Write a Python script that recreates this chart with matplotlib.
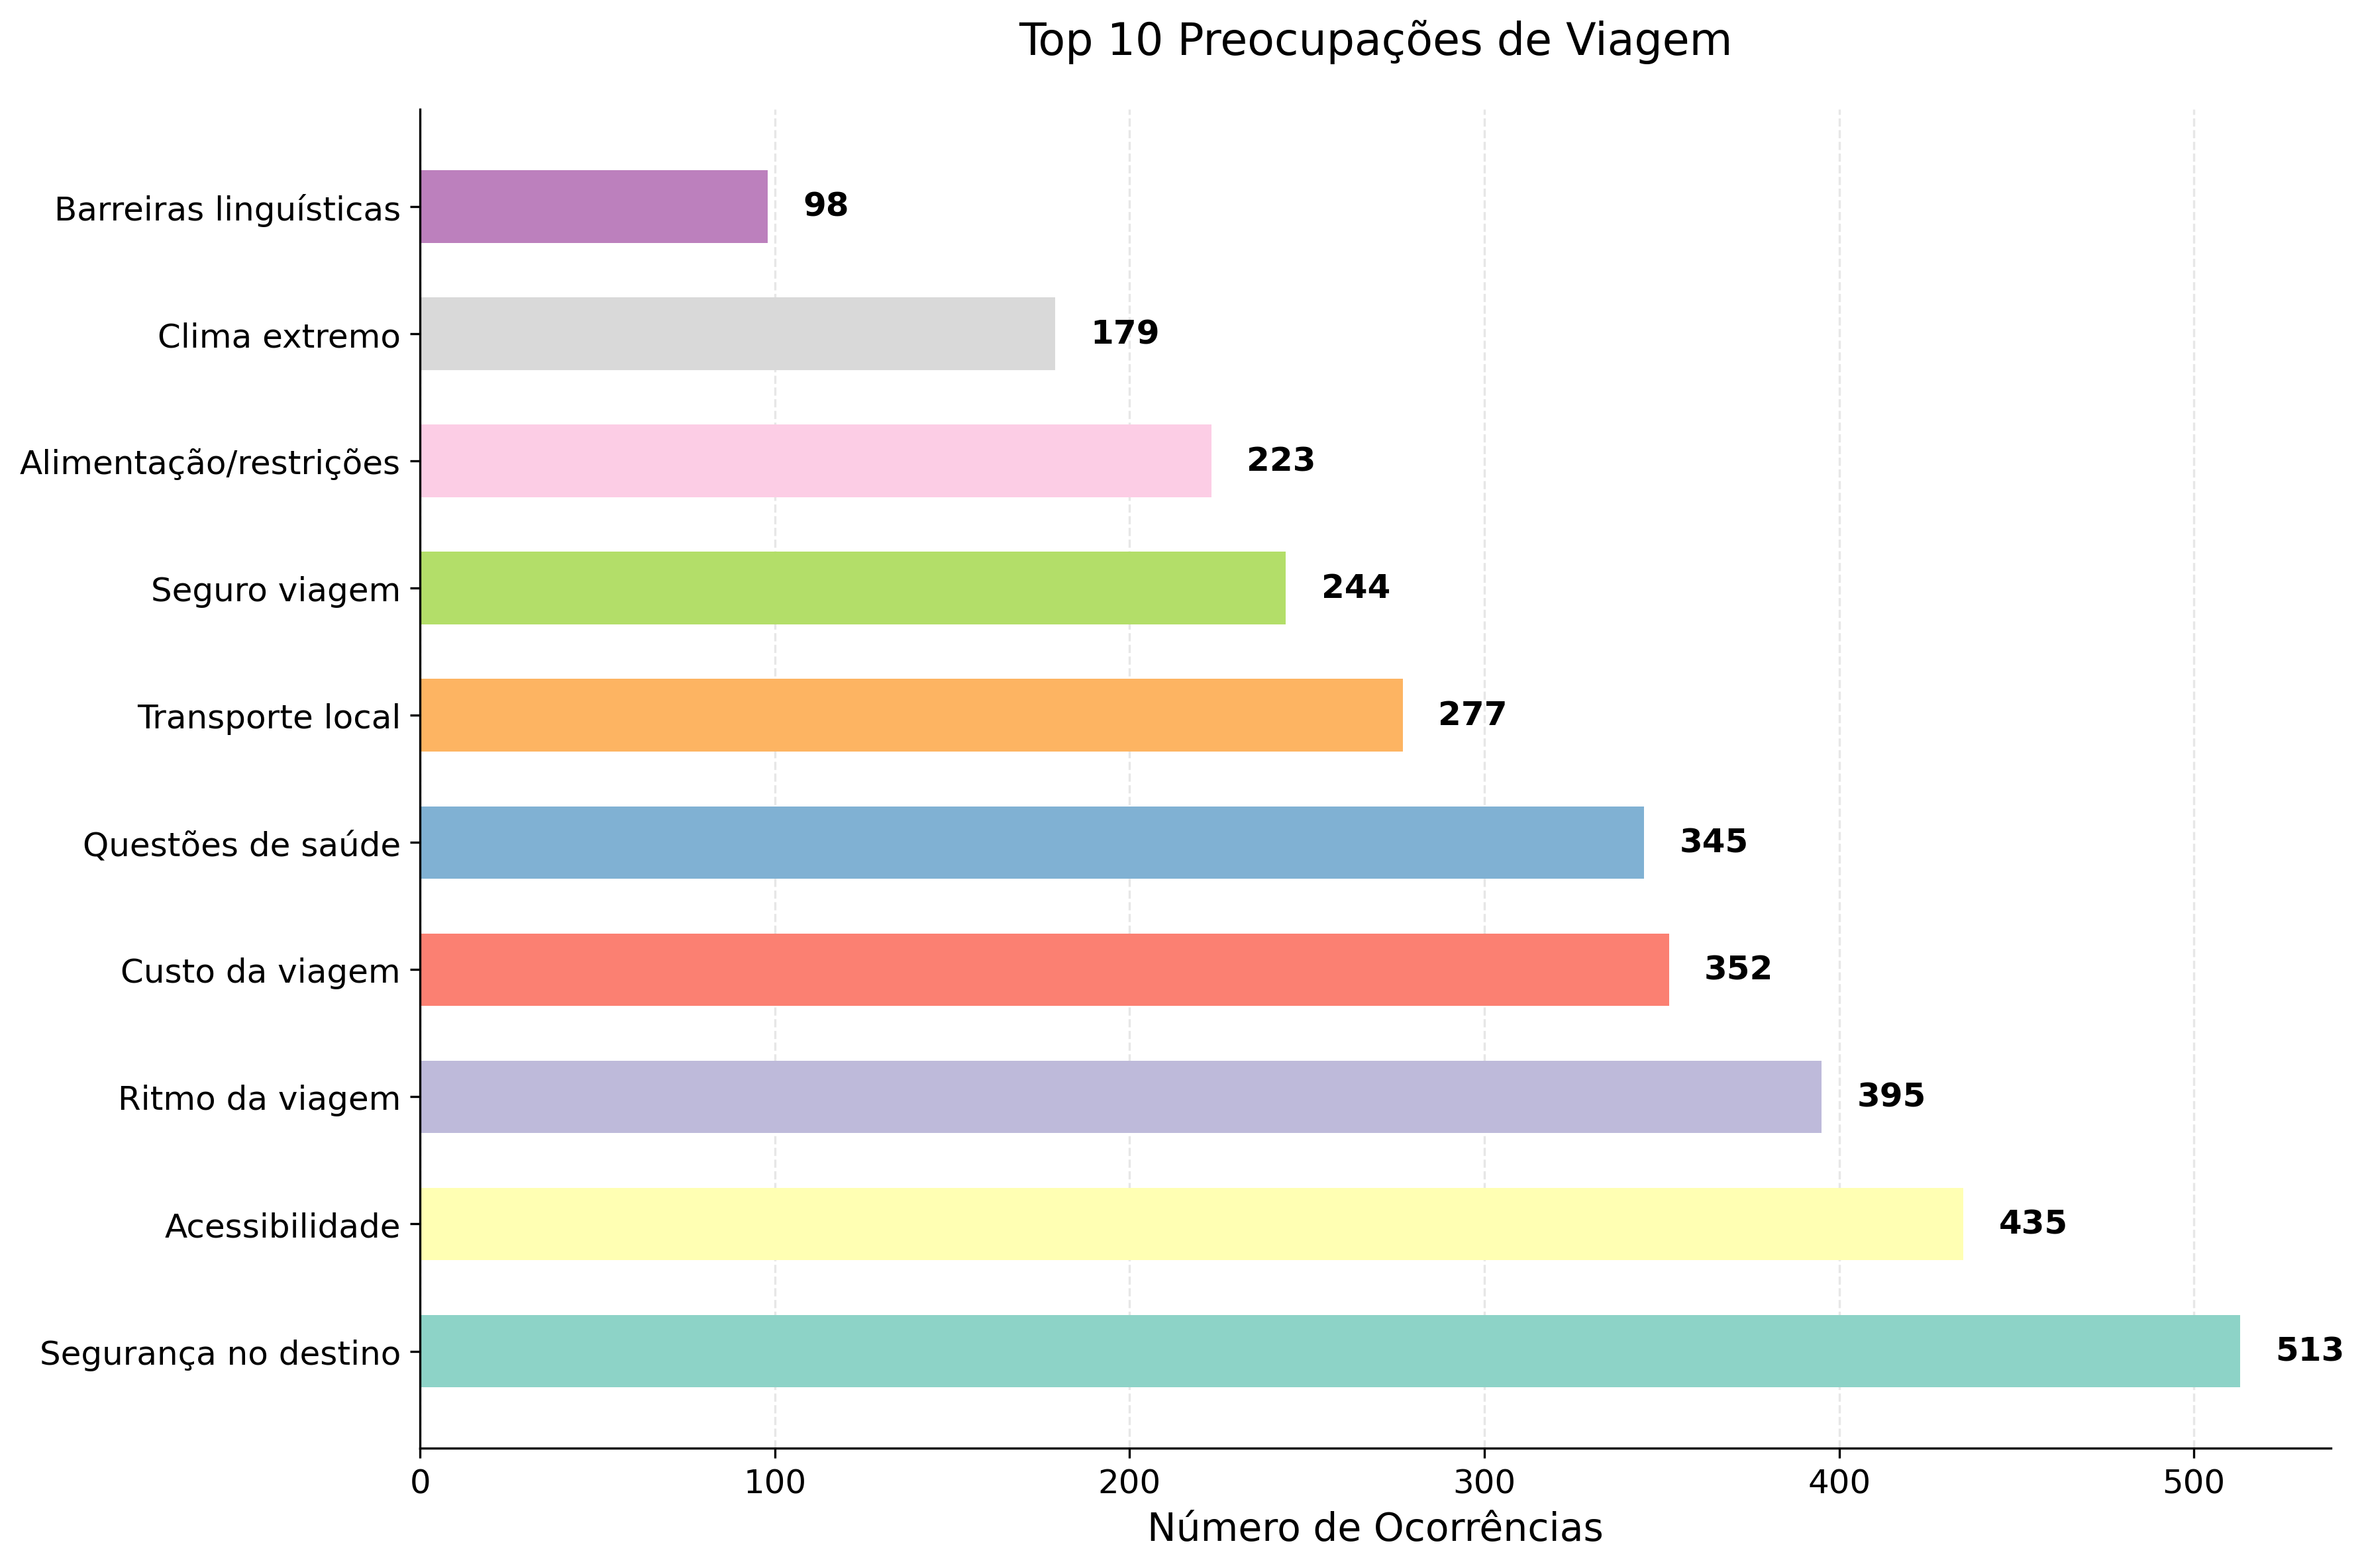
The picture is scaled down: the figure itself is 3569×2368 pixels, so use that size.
import matplotlib.pyplot as plt
import numpy as np

concerns = ["Segurança no destino", "Acessibilidade", "Ritmo da viagem", "Custo da viagem",
            "Questões de saúde", "Transporte local", "Seguro viagem",
            "Alimentação/restrições", "Clima extremo", "Barreiras linguísticas"]
counts = [513, 435, 395, 352, 345, 277, 244, 223, 179, 98]

colors = plt.cm.Set3(np.arange(len(concerns)))

fig, ax = plt.subplots(figsize=(12, 8))
bars = ax.barh(concerns, counts, height=0.57, color=colors)

for bar, val in zip(bars, counts):
    ax.text(bar.get_width() + 10, bar.get_y() + bar.get_height() / 2, str(val),
            va="center", ha="left", fontsize=12, fontweight="bold")

ax.set_title("Top 10 Preocupações de Viagem", fontsize=16, pad=20)
ax.set_xlabel("Número de Ocorrências", fontsize=14)
ax.tick_params(axis="both", labelsize=12)
ax.grid(axis="x", linestyle="--", alpha=0.3)
ax.set_axisbelow(True)
ax.spines["top"].set_visible(False)
ax.spines["right"].set_visible(False)

plt.tight_layout()
fig.savefig("out.png", dpi=300, bbox_inches="tight")
